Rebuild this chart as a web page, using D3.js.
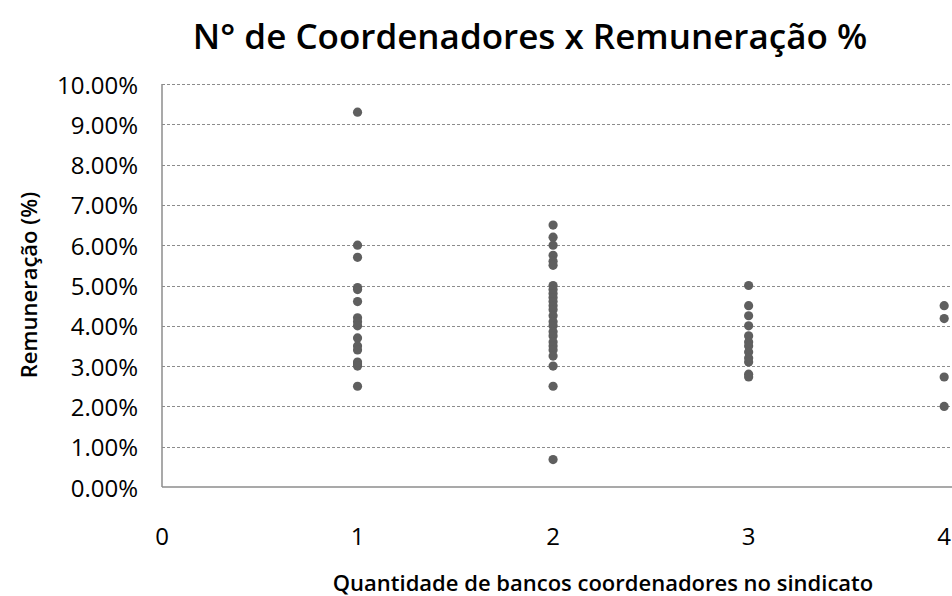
<!DOCTYPE html>
<html>
<head>
<meta charset="utf-8">
<script src="https://cdn.jsdelivr.net/npm/d3@7"></script>
<style>
  html, body { margin: 0; padding: 0; background: #fff; }
  svg { display: block; }
  text { font-family: "Open Sans", "Noto Sans", sans-serif; fill: #000; }
</style>
</head>
<body>
<script>
// ---- data ----
const title = "N° de Coordenadores x Remuneração %";
const xTitle = "Quantidade de bancos coordenadores no sindicato";
const yTitle = "Remuneração (%)";
const xTicks = [0, 1, 2, 3, 4];
const yTicks = [0, 1, 2, 3, 4, 5, 6, 7, 8, 9, 10];
const coord1 = [9.3, 6.0, 5.7, 4.95, 4.9, 4.6, 4.2, 4.1, 4.0, 3.7, 3.5, 3.4, 3.1, 3.05, 3.0, 2.5];
const coord2 = [6.5, 6.2, 6.0, 5.75, 5.6, 5.5, 5.0, 4.9, 4.8, 4.7, 4.6, 4.5, 4.4, 4.25, 4.1, 4.0, 3.85, 3.75, 3.6, 3.5, 3.4, 3.25, 3.0, 2.5, 0.68];
const coord3 = [5.0, 4.5, 4.25, 4.0, 3.75, 3.6, 3.5, 3.35, 3.2, 3.1, 2.8, 2.73];
const coord4 = [4.5, 4.18, 2.73, 2.0];

const points = [];
[[1, coord1], [2, coord2], [3, coord3], [4, coord4]].forEach(([xv, arr]) => {
  arr.forEach(v => points.push({ x: xv, y: v }));
});

// ---- layout ----
const W = 952, H = 596;
const mLeft = 162, mRight = 952, mTop = 84, mBottom = 487;

const svg = d3.select("body").append("svg").attr("width", W).attr("height", H);
svg.append("rect").attr("width", W).attr("height", H).attr("fill", "#fff");

const x = d3.scaleLinear().domain([0, 4.04]).range([mLeft, mRight]);
const y = d3.scaleLinear().domain([0, 10]).range([mBottom, mTop]);

// gridlines
svg.append("g").selectAll("line").data(yTicks.filter(d => d > 0)).join("line")
  .attr("x1", mLeft).attr("x2", mRight)
  .attr("y1", d => Math.round(y(d)) + 0.5).attr("y2", d => Math.round(y(d)) + 0.5)
  .attr("stroke", "#8c8c8c").attr("stroke-width", 1)
  .attr("stroke-dasharray", "3,2");

// axes lines
svg.append("line").attr("x1", mLeft).attr("x2", mLeft).attr("y1", mTop).attr("y2", mBottom)
  .attr("stroke", "#8c8c8c").attr("stroke-width", 1.5);
svg.append("line").attr("x1", mLeft).attr("x2", mRight).attr("y1", mBottom).attr("y2", mBottom)
  .attr("stroke", "#8c8c8c").attr("stroke-width", 1.5);

// y tick labels
svg.append("g").selectAll("text").data(yTicks).join("text")
  .attr("x", 138).attr("y", d => y(d))
  .attr("text-anchor", "end").attr("dominant-baseline", "central")
  .attr("font-size", 24).attr("fill", "#262626")
  .text(d => d.toFixed(2) + "%");

// x tick labels
svg.append("g").selectAll("text").data(xTicks).join("text")
  .attr("x", d => x(d)).attr("y", 535)
  .attr("text-anchor", "middle").attr("dominant-baseline", "central")
  .attr("font-size", 24).attr("fill", "#262626")
  .text(d => d);

// points
svg.append("g").selectAll("circle").data(points).join("circle")
  .attr("cx", d => x(d.x)).attr("cy", d => y(d.y))
  .attr("r", 4.6).attr("fill", "#5f5f5f");

// title
svg.append("text").attr("x", 530).attr("y", 35)
  .attr("text-anchor", "middle").attr("dominant-baseline", "central")
  .attr("font-size", 35).attr("font-weight", "600")
  .text(title);

// x axis title
svg.append("text").attr("x", 603).attr("y", 582)
  .attr("text-anchor", "middle").attr("dominant-baseline", "central")
  .attr("font-size", 22).attr("font-weight", "600")
  .text(xTitle);

// y axis title
svg.append("text")
  .attr("transform", "translate(28,285) rotate(-90)")
  .attr("text-anchor", "middle").attr("dominant-baseline", "central")
  .attr("font-size", 22).attr("font-weight", "600")
  .text(yTitle);
</script>
</body>
</html>
